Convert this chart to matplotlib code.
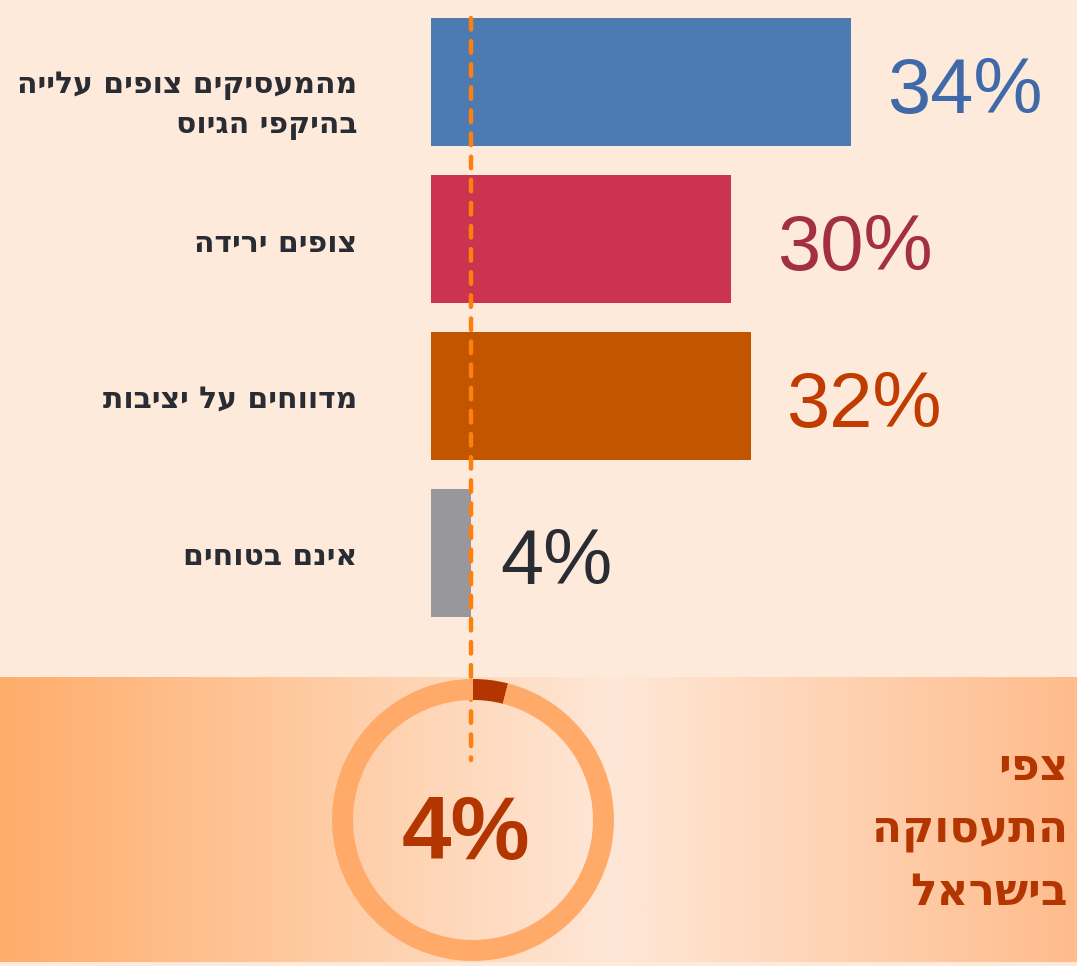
import numpy as np
import matplotlib.pyplot as plt
from matplotlib.colors import LinearSegmentedColormap

# data
categories = ["מהמעסיקים צופים עלייה\nבהיקפי הגיוס", "צופים ירידה", "מדווחים על יציבות", "אינם בטוחים"]
bar_lengths = [42, 30, 32, 4]      # drawn length of the bars
value_labels = [34, 30, 32, 4]     # printed percentages
bar_colors = ["#4C7AB1", "#CC334E", "#C25500", "#98979C"]
label_colors = ["#3F69A8", "#A3303F", "#C03C00", "#2A2C33"]
donut_value = 4
donut_title = "צפי\nהתעסוקה\nבישראל"

W, H = 1077, 966


def rtl(s):
    # matplotlib has no bidi support, so flip each line by hand
    return "\n".join(line[::-1] for line in s.split("\n"))


fig = plt.figure(figsize=(W / 100, H / 100), dpi=100, facecolor="#FEEADB")

# bottom band with horizontal gradient
bg = fig.add_axes([0, (H - 962) / H, 1, (962 - 677) / H])
cmap = LinearSegmentedColormap.from_list(
    "band", [(0, "#FFAD6B"), (0.57, "#FEE7D7"), (1, "#FFBC8C")])
bg.imshow(np.linspace(0, 1, 400)[None, :], aspect="auto", cmap=cmap, extent=(0, 1, 0, 1))
bg.axis("off")

# bars
left_px = 431
ax = fig.add_axes([left_px / W, (H - 677) / H, 1 - left_px / W, 677 / H])
ax.set_facecolor("none")
ax.set_xlim(0, (W - left_px) / 10)
y0, step = 82, 157
ax.set_ylim((677 - y0) / step, -y0 / step)
ypos = np.arange(len(categories))
ax.barh(ypos, bar_lengths, height=128 / step, color=bar_colors, zorder=2)
offsets = [3.6, 4.6, 3.5, 2.9]
label_shift = [0.15, 0.03, 0.02, 0.02]
for i, (v, lab) in enumerate(zip(bar_lengths, value_labels)):
    ax.text(v + offsets[i], i + 0.2, f"{lab}%", fontsize=56, family="Liberation Sans",
            color=label_colors[i], va="baseline", ha="left")
    ax.text(-74 / 10, i + label_shift[i], rtl(categories[i]), fontsize=21.5, fontweight="bold",
            family="DejaVu Sans", color="#2A2C33", va="center", ha="right",
            linespacing=1.45, clip_on=False)
# dashed marker line at the last value
ax.plot([bar_lengths[-1]] * 2, [-64 / step, (760 - y0) / step], color="#FF7F0E",
        lw=3.2, dashes=(2.6, 2.6), dash_capstyle="round", clip_on=False, zorder=5)
ax.axis("off")

# donut
r = 141
dax = fig.add_axes([(473 - r) / W, (H - 820 - r) / H, 2 * r / W, 2 * r / H])
dax.pie([donut_value, 100 - donut_value], startangle=90, counterclock=False,
        colors=["#B33600", "#FFAA68"], wedgeprops=dict(width=21 / r, linewidth=0))
dax.set_xlim(-1, 1)
dax.set_ylim(-1, 1)
dax.set_aspect("equal")
dax.text(-0.05, -0.11, f"{donut_value}%", fontsize=64, fontweight="bold",
         family="Liberation Sans", color="#B33600", ha="center", va="center")

fig.text(1068 / W, 1 - 830 / H, rtl(donut_title), fontsize=31.5, fontweight="bold",
         family="DejaVu Sans", color="#B33600", ha="right", va="center", linespacing=1.55)

fig.savefig("out.png", dpi=100, facecolor=fig.get_facecolor())
